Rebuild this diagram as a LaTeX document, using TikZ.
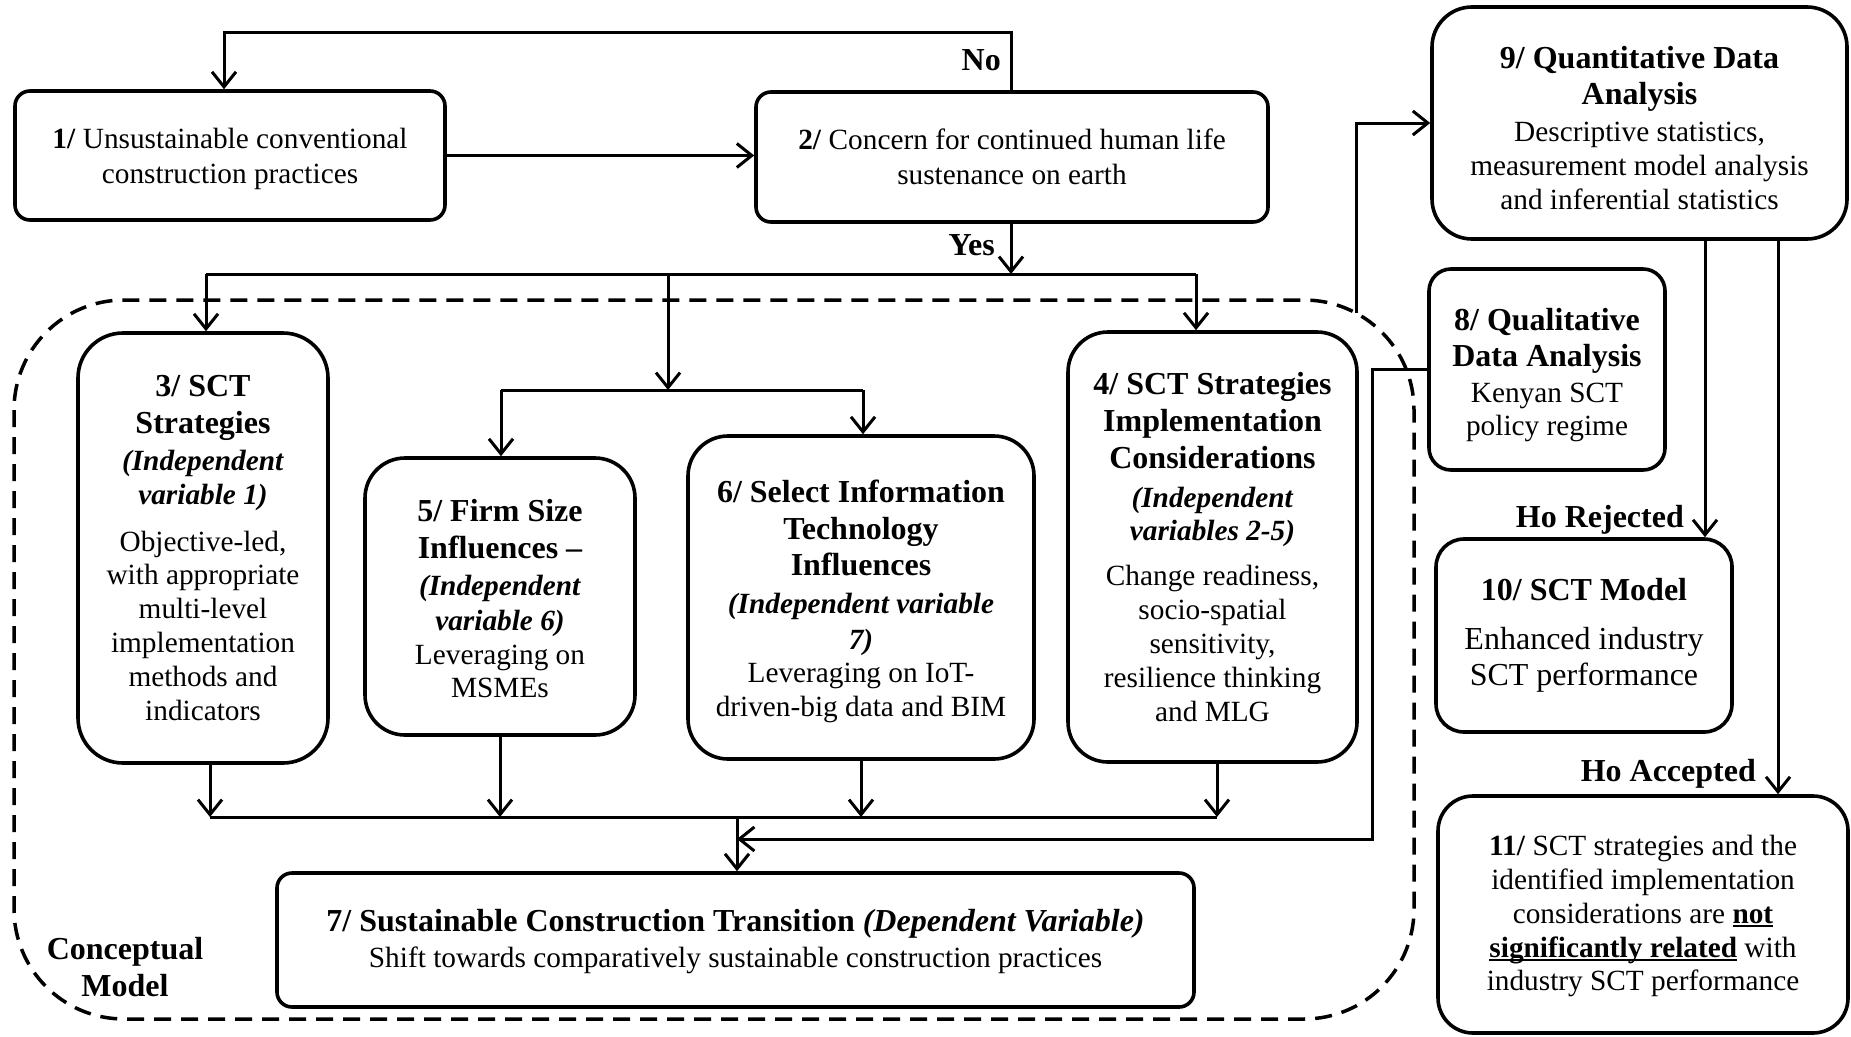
\documentclass[tikz,border=0pt]{standalone}
\usepackage{fontspec}
\setmainfont{Liberation Serif}
\usetikzlibrary{arrows.meta,calc}
% text styles: headings, body, large body, bold italic
\newcommand\hd{\fontsize{32}{36.6}\selectfont\bfseries}
\newcommand\bd{\fontsize{29.3}{33.8}\selectfont}
\newcommand\bg{\fontsize{32}{36.6}\selectfont}
\newcommand\iv[1]{\textbf{\textit{#1}}}
% bold text with a thin underline just under the baseline
\newcommand\ulbf[1]{\setbox0\hbox{\bfseries #1}\rlap{\rule[-4pt]{\wd0}{2pt}}\box0\relax}

\begin{document}
\begin{tikzpicture}[x=1pt,y=-1pt,
  frame/.style={draw, line width=3.6pt, inner sep=0pt},
  txt/.style={align=center, inner sep=0pt, font=\bd},
  conn/.style={line width=3pt},
  arr/.style={conn, -{Straight Barb[length=15pt,width=24pt]}},
  lbl/.style={font=\hd, inner sep=0pt, anchor=east},
  region/.style={line width=3.5pt, dash pattern=on 17pt off 10pt, rounded corners=110pt}]

\useasboundingbox (0,0) rectangle (1851,1036);

% conceptual model frame
\draw[region] (14,300) rectangle (1414,1019);
\node[font=\hd, align=center, inner sep=0pt] (cm) at (125,967) {Conceptual\\Model};

% box outlines
\node[frame, rounded corners=15pt, minimum width=430pt, minimum height=129pt] (b1) at (230,155.5) {};
\node[frame, rounded corners=15pt, minimum width=512pt, minimum height=130pt] (b2) at (1012,157) {};
\node[frame, rounded corners=45pt, minimum width=250pt, minimum height=430pt] (b3) at (203,548) {};
\node[frame, rounded corners=40pt, minimum width=270pt, minimum height=277pt] (b5) at (500,596.5) {};
\node[frame, rounded corners=40pt, minimum width=346pt, minimum height=323pt] (b6) at (861,597.5) {};
\node[frame, rounded corners=40pt, minimum width=289pt, minimum height=430pt] (b4) at (1212.5,547) {};
\node[frame, rounded corners=15pt, minimum width=917pt, minimum height=134pt] (b7) at (735.5,940) {};
\node[frame, rounded corners=40pt, minimum width=415pt, minimum height=232pt] (b9) at (1639.5,123) {};
\node[frame, rounded corners=22pt, minimum width=236pt, minimum height=201pt] (b8) at (1547,369.5) {};
\node[frame, rounded corners=28pt, minimum width=296pt, minimum height=193pt] (b10) at (1584,635.5) {};
\node[frame, rounded corners=35pt, minimum width=410pt, minimum height=237pt] (b11) at (1643,914.5) {};

% box texts
\node[txt] (t1) at ($(b1.center)+(0,3.5)$)
  {\textbf{1/} Unsustainable conventional\\[1.7pt]construction practices};
\node[txt] (t2) at (b2.center)
  {\textbf{2/} Concern for continued human life\\[1.7pt]sustenance on earth};
\node[txt] (t3) at (b3.center)
  {{\hd 3/ SCT}\\[2.5pt]
   {\hd Strategies}\\[4pt]
   \iv{(Independent}\\
   \iv{variable 1)}\\[12.7pt]
   Objective-led,\\ with appropriate\\ multi-level\\ implementation\\ methods and\\ indicators};
\node[txt] (t5) at ($(b5.center)+(0,2.4)$)
  {{\hd 5/ Firm Size}\\[2.8pt]
   {\hd Influences \textendash}\\[3.6pt]
   \iv{(Independent}\\[0.8pt]
   \iv{variable 6)}\\
   Leveraging on\\ MSMEs};
\node[txt] (t6) at ($(b6.center)+(0,4)$)
  {{\hd 6/ Select Information}\\[2.9pt]
   {\hd Technology}\\[2.5pt]
   {\hd Influences}\\[4.2pt]
   \iv{(Independent variable}\\[1.7pt]
   \iv{7)}\\
   Leveraging on IoT-\\ driven-big data and BIM};
\node[txt] (t4) at (b4.center)
  {{\hd 4/ SCT Strategies}\\[2.5pt]
   {\hd Implementation}\\[3.2pt]
   {\hd Considerations}\\[5.2pt]
   \iv{(Independent}\\
   \iv{variables 2-5)}\\[11.2pt]
   Change readiness,\\ socio-spatial\\ sensitivity,\\ resilience thinking\\ and MLG};
\node[txt] (t7) at ($(b7.center)+(0,1.8)$)
  {{\hd 7/ Sustainable Construction Transition \textit{(Dependent Variable)}}\\[2.6pt]
   Shift towards comparatively sustainable construction practices};
\node[txt] (t9) at ($(b9.center)+(0,4.7)$)
  {{\hd 9/ Quantitative Data}\\[2.5pt]
   {\hd Analysis}\\[3.2pt]
   Descriptive statistics,\\ measurement model analysis\\ and inferential statistics};
\node[txt] (t8) at ($(b8.center)+(0,5.5)$)
  {{\hd 8/ Qualitative}\\[2.2pt]
   {\hd Data Analysis}\\[2.2pt]
   Kenyan SCT\\ policy regime};
\node[txt] (t10) at (b10.center)
  {{\hd 10/ SCT Model}\\[14.7pt]
   {\bg Enhanced industry}\\[2.7pt]
   {\bg SCT performance}};
\node[txt] (t11) at ($(b11.center)+(0,1.8)$)
  {\textbf{11/} SCT strategies and the\\ identified implementation\\
   considerations are \ulbf{not}\\ \ulbf{significantly related} with\\
   industry SCT performance};

% labels on the decision branches
\node[lbl] (no) at (1001,60) {No};
\node[lbl] (yes) at (995,245) {Yes};
\node[lbl] (hor) at (1684,520) {Ho Rejected};
\node[lbl] (hoa) at (1756,774) {Ho Accepted};

% "No" loop back to box 1
\coordinate (noR) at (1011,32);
\coordinate (noL) at (224,32);
\draw[arr] (noR |- b2.north) -- (noR) -- (noL) -- (noL |- b1.north);
\draw[arr] (b1.east) -- (b1.east -| b2.west);

% "Yes" branch into the conceptual model
\coordinate (yesX) at (1011,274);
\coordinate (splitL) at (206,274);
\coordinate (splitR) at (1196,274);
\coordinate (splitM) at (668,274);
\draw[arr] (yesX |- b2.south) -- (yesX);
\draw[conn] (splitL) -- (splitR);
\draw[arr] (splitL) -- (splitL |- b3.north);
\draw[arr] (splitR) -- (splitR |- b4.north);
\coordinate (midJ) at (668,390);
\coordinate (midL) at (501,390);
\coordinate (midR) at (863,390);
\draw[arr] (splitM) -- (midJ);
\draw[conn] (midL) -- (midR);
\draw[arr] (midL) -- (midL |- b5.north);
\draw[arr] (midR) -- (midR |- b6.north);

% independent variables into the dependent variable
\coordinate (botL) at (210,817);
\coordinate (bot5) at (500,817);
\coordinate (bot6) at (861,817);
\coordinate (botR) at (1217,817);
\coordinate (bot7) at (737,817);
\draw[conn] (botL) -- (botR);
\draw[arr] (botL |- b3.south) -- (botL);
\draw[arr] (bot5 |- b5.south) -- (bot5);
\draw[arr] (bot6 |- b6.south) -- (bot6);
\draw[arr] (botR |- b4.south) -- (botR);
\draw[arr] (bot7) -- (bot7 |- b7.north);

% qualitative analysis feeding back
\coordinate (fbBot) at (1372,839);
\coordinate (fbEnd) at (737,839);
\draw[arr] (b8.west) -| (fbBot) -- (fbEnd);

% model into quantitative analysis
\coordinate (qStart) at (1356,313);
\draw[arr] (qStart) |- (b9.west);

% hypothesis outcomes
\coordinate (rejX) at (1705,0);
\coordinate (accX) at (1778,0);
\draw[arr] (rejX |- b9.south) -- (rejX |- b10.north);
\draw[arr] (accX |- b9.south) -- (accX |- b11.north);

\end{tikzpicture}
\end{document}
